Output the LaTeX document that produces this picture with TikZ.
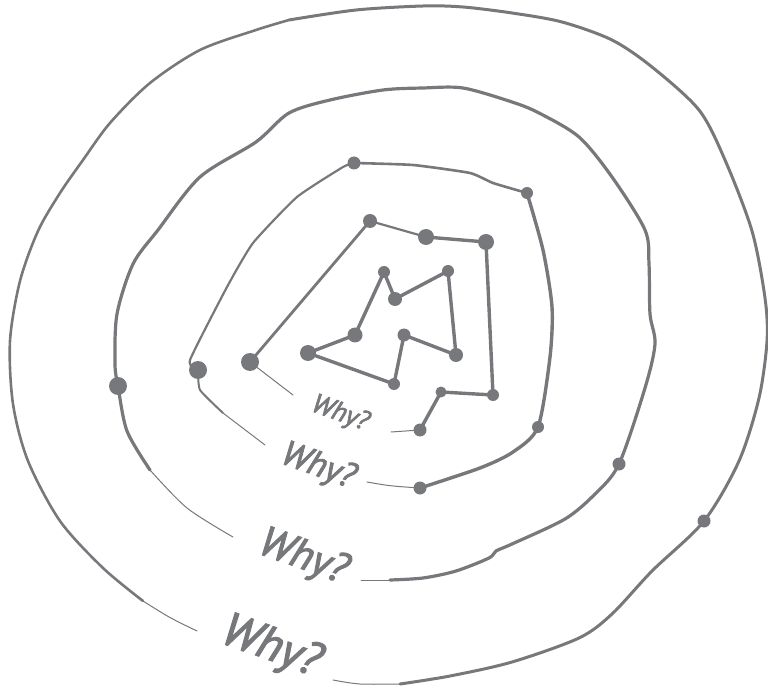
\documentclass[tikz,border=0pt]{standalone}
\usepackage{fontspec}
\newfontfamily\whyfont[ItalicFeatures={FakeBold=2.5}]{PT Sans}
\definecolor{ink}{HTML}{77787B}
\begin{document}
\begin{tikzpicture}[x=1pt,y=-1pt,
  dot/.style={circle,fill=ink,inner sep=0pt,minimum size=#1},
  dot/.default=12pt,
  loopline/.style={draw=ink,line cap=round,line join=round,line width=#1},
  loopline/.default=3pt,
  tail/.style={draw=ink,line cap=round,line width=1pt},
  why/.style={text=ink,inner sep=0pt,rotate=-20,font=\whyfont\itshape\fontsize{#1}{#1}\selectfont}]
\useasboundingbox (0,0) rectangle (768,692);

% ---------- coordinates of the dots
\coordinate (iA) at (308,353);
\coordinate (iB) at (355,335);
\coordinate (iC) at (384,272);
\coordinate (iD) at (395,299);
\coordinate (iE) at (448,271);
\coordinate (iF) at (456,355);
\coordinate (iG) at (404,335);
\coordinate (iH) at (394,384);

\coordinate (a1) at (420,430);
\coordinate (a2) at (441,392);
\coordinate (a3) at (493,395);
\coordinate (a4) at (486,242);
\coordinate (a5) at (426,237);
\coordinate (a6) at (370,221);
\coordinate (a7) at (250,362);
\coordinate (a0) at (391,432);
\coordinate (a8) at (293,395);

\coordinate (b1) at (420,488);
\coordinate (b2) at (538,427);
\coordinate (b3) at (527,193);
\coordinate (b4) at (354,163);
\coordinate (b5) at (198,370);
\coordinate (b0) at (367,482);
\coordinate (b6) at (265,445);

\coordinate (c1) at (118,386);
\coordinate (c2) at (619,464);
\coordinate (c0) at (233,537);
\coordinate (c3) at (361,580);

\coordinate (d1) at (704,521);
\coordinate (d0) at (333,680);
\coordinate (d2) at (197,631);

% ---------- inner loop
\draw[loopline=3.4pt] (iA) -- (iB) -- (iC) -- (iD) -- (iE) -- (iF) -- (iG) -- (iH) -- cycle;

% ---------- loop 1
\draw[loopline=3.4pt] (a1) -- (a2) -- (a3) -- (a4) -- (a5);
\draw[loopline=2.2pt] (a5) -- (a6);
\draw[loopline=2.8pt] (a6) -- (a7);
\draw[tail] (a7) -- (a8);
\draw[tail] (a0) -- (a1);

% ---------- loop 2
\draw[tail] (b0) .. controls (390,486) .. (b1);
\draw[loopline=3.4pt] plot[smooth,tension=0.45] coordinates
  {(b1) (480,468) (513,452) (b2) (550,357) (552,307) (543,250) (b3)};
\draw[loopline=2.6pt] plot[smooth,tension=0.3] coordinates
  {(b3) (493,183) (470,173) (413,165) (b4)};
\draw[loopline=2.2pt] plot[smooth,tension=0.3] coordinates
  {(b4) (343,167) (297,197) (253,243) (227,287) (190,360) (b5)};
\draw[loopline=2pt] plot[smooth,tension=0.3] coordinates
  {(b5) (200,390) (223,413)};
\draw[tail] (223,413) -- (b6);

% ---------- loop 3
\draw[tail] plot[smooth] coordinates {(c0) (187,508) (150,470)};
\draw[loopline=3.2pt] plot[smooth,tension=0.5] coordinates
  {(150,470) (127,431) (c1) (115,364) (117,314) (133,264) (158,230) (200,177) (256,142) (289,113) (330,100) (383,90) (423,88) (463,88) (512,102) (539,113) (579,137) (612,177) (645,230) (649,264) (650,314) (655,344) (645,388) (c2) (595,494) (565,519) (512,544) (496,551) (489,558) (456,571) (423,578) (390,580)};
\draw[tail] (390,580) -- (c3);

% ---------- loop 4
\draw[tail] plot[smooth] coordinates {(d0) (360,684) (400,684)};
\draw[loopline=3pt] plot[smooth,tension=0.5] coordinates
  {(400,684) (450,676) (512,662) (579,638) (612,614) (652,571) (d1) (739,461) (759,398) (767,341) (765,298) (752,231) (725,160) (699,110) (652,67) (612,40) (562,22) (512,13) (463,7) (423,6) (356,10) (289,20)};
\draw[loopline=2.6pt] plot[smooth,tension=0.5] coordinates
  {(289,20) (256,30) (200,50) (150,83) (110,123) (83,160) (60,193) (38,231) (20,281) (10,341) (13,404) (28,461) (60,521) (103,568) (143,601)};
\draw[tail] (143,601) .. controls (170,618) .. (d2);

% ---------- dots
\node[dot=16pt] (nA) at (iA) {};
\node[dot=15pt] (nB) at (iB) {};
\node[dot=12pt] (nC) at (iC) {};
\node[dot=14pt] (nD) at (iD) {};
\node[dot=12pt] (nE) at (iE) {};
\node[dot=14pt] (nF) at (iF) {};
\node[dot=13pt] (nG) at (iG) {};
\node[dot=12pt] (nH) at (iH) {};

\node[dot=13pt] (n1) at (a1) {};
\node[dot=11pt] (n2) at (a2) {};
\node[dot=12pt] (n3) at (a3) {};
\node[dot=16pt] (n4) at (a4) {};
\node[dot=16pt] (n5) at (a5) {};
\node[dot=14pt] (n6) at (a6) {};
\node[dot=18pt] (n7) at (a7) {};

\node[dot=13pt] (m1) at (b1) {};
\node[dot=12pt] (m2) at (b2) {};
\node[dot=12pt] (m3) at (b3) {};
\node[dot=13pt] (m4) at (b4) {};
\node[dot=18pt] (m5) at (b5) {};

\node[dot=18pt] (k1) at (c1) {};
\node[dot=13pt] (k2) at (c2) {};

\node[dot=13pt] (j1) at (d1) {};

% ---------- labels
\node[why=27] (w1) at (340,414) {Why?};
\node[why=35] (w2) at (318,467) {Why?};
\node[why=42] (w3) at (303,558) {Why?};
\node[why=47] (w4) at (271,648) {Why?};
\end{tikzpicture}
\end{document}
